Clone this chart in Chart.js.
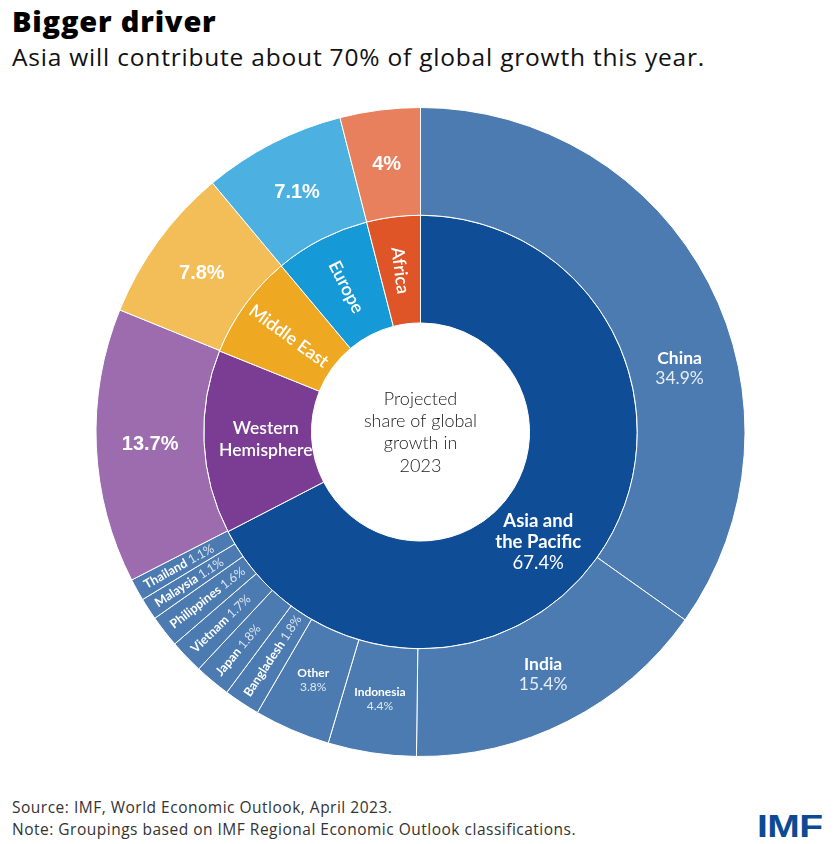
<!DOCTYPE html>
<html>
<head>
<meta charset="utf-8">
<script src="https://cdn.jsdelivr.net/npm/chart.js@4.4.0/dist/chart.umd.min.js"></script>
<style>
    body {
        margin: 0;
        background: #ffffff;
        font-family: "Open Sans", "Noto Sans", sans-serif;
        width: 837px;
        height: 844px;
        position: relative;
        overflow: hidden;
    }
    .title {
        position: absolute;
        left: 12px;
        top: 1px;
        font-size: 29px;
        font-weight: 800;
        letter-spacing: 0.8px;
        color: #000;
    }
    .subtitle {
        position: absolute;
        left: 12px;
        top: 40px;
        font-size: 24.5px;
        letter-spacing: 0.8px;
        color: #111;
    }
    .chart-box {
        position: absolute;
        left: 95px;
        top: 107px;
        width: 651px;
        height: 650px;
    }
    .note {
        position: absolute;
        left: 12px;
        top: 796px;
        font-size: 15.5px;
        letter-spacing: 0.5px;
        line-height: 22px;
        color: #333;
    }
    .logo {
        position: absolute;
        left: 757px;
        top: 808px;
        font-family: "Liberation Sans", Arial, sans-serif;
        font-weight: bold;
        font-size: 32px;
        color: #0d4a94;
        transform: scaleX(1.22);
        transform-origin: left top;
        letter-spacing: -0.5px;
    }
</style>
</head>
<body>
<div class="title">Bigger driver</div>
<div class="subtitle">Asia will contribute about 70% of global growth this year.</div>
<div class="chart-box"><canvas id="growthChart"></canvas></div>
<div class="note">Source: IMF, World Economic Outlook, April 2023.<br>Note: Groupings based on IMF Regional Economic Outlook classifications.</div>
<div class="logo">IMF</div>

<script>
// Regions (inner ring), clockwise from the top
const regions = ['Asia and the Pacific', 'Western Hemisphere', 'Middle East', 'Europe', 'Africa'];
const regionShares = [67.4, 13.7, 7.8, 7.1, 4];

// Asia and the Pacific split by economy (outer ring)
const countries = ['China', 'India', 'Indonesia', 'Other', 'Bangladesh', 'Japan', 'Vietnam', 'Philippines', 'Malaysia', 'Thailand'];
const countryShares = [34.9, 15.4, 4.4, 3.8, 1.8, 1.8, 1.7, 1.6, 1.1, 1.1];

const centerLines = ['Projected', 'share of global', 'growth in', '2023'];

const innerColors = ['#0f4e96', '#7b3d93', '#efa822', '#169ad7', '#e05527'];
const outerColors = ['#4b7bb1', '#9c6caf', '#f3bd58', '#4cb1e0', '#e8805d'];

// outer ring = the Asian economies, then the other regions again
const outerLabels = countries.concat(regions.slice(1));
const outerData = countryShares.concat(regionShares.slice(1));
const outerFill = countries.map(() => outerColors[0]).concat(outerColors.slice(1));

const pct = v => v + '%';

// how each label is drawn
const bigNames = ['China', 'India'];
const midNames = ['Indonesia', 'Other'];
const radialNames = ['Europe', 'Africa', 'Middle East'];
// a couple of labels are not sitting at the middle of their slice
const labelNudge = {
    'China': { deg: 76, r: 267 },
    'Asia and the Pacific': { deg: 133, r: 161 }
};

const labelPlugin = {
    id: 'ringLabels',
    afterDatasetsDraw(chart) {
        const ctx = chart.ctx;
        ctx.save();
        ctx.fillStyle = '#ffffff';
        ctx.textBaseline = 'middle';

        chart.data.datasets.forEach((ds, di) => {
            const meta = chart.getDatasetMeta(di);
            meta.data.forEach((arc, i) => {
                const p = arc.getProps(['x', 'y', 'startAngle', 'endAngle', 'innerRadius', 'outerRadius'], true);
                const name = ds.labels[i];
                const value = ds.data[i];
                let ang = (p.startAngle + p.endAngle) / 2;
                let r = (p.innerRadius + p.outerRadius) / 2;
                if (labelNudge[name] && !(di === 0 && regions.includes(name))) {
                    ang = (labelNudge[name].deg - 90) * Math.PI / 180;
                    r = labelNudge[name].r;
                }
                const cx = p.x + Math.cos(ang) * r;
                const cy = p.y + Math.sin(ang) * r;

                if (di === 0) {
                    // outer ring
                    if (regions.includes(name)) {
                        ctx.font = 'bold 20px "Liberation Sans", Arial, sans-serif';
                        ctx.textAlign = 'center';
                        ctx.fillText(pct(value), cx, cy + 1);
                    } else if (bigNames.includes(name)) {
                        ctx.textAlign = 'center';
                        ctx.font = 'bold 17.5px Lato, sans-serif';
                        ctx.fillText(name, cx, cy - 9);
                        ctx.font = '17.5px Lato, sans-serif';
                        ctx.fillStyle = '#e6edf6';
                        ctx.fillText(pct(value), cx, cy + 11);
                        ctx.fillStyle = '#ffffff';
                    } else if (midNames.includes(name)) {
                        ctx.textAlign = 'center';
                        ctx.font = 'bold 12px Lato, sans-serif';
                        ctx.fillText(name, cx, cy - 7);
                        ctx.font = '12px Lato, sans-serif';
                        ctx.fillStyle = '#e0e8f2';
                        ctx.fillText(pct(value), cx, cy + 7);
                        ctx.fillStyle = '#ffffff';
                    } else {
                        // thin slices: text runs along the radius, reading inwards
                        const start = p.outerRadius - 9;
                        ctx.save();
                        ctx.translate(p.x + Math.cos(ang) * start, p.y + Math.sin(ang) * start);
                        ctx.rotate(ang + Math.PI);
                        ctx.textAlign = 'left';
                        ctx.font = 'bold 12.5px Lato, sans-serif';
                        ctx.fillText(name, 0, 0);
                        const w = ctx.measureText(name + ' ').width;
                        ctx.font = '12.5px Lato, sans-serif';
                        ctx.fillStyle = '#dbe4f0';
                        ctx.fillText(pct(value), w, 0);
                        ctx.restore();
                    }
                } else {
                    // inner ring
                    if (name === 'Asia and the Pacific') {
                        ctx.textAlign = 'center';
                        ctx.font = 'bold 18.5px Lato, sans-serif';
                        ctx.fillText('Asia and', cx, cy - 21);
                        ctx.fillText('the Pacific', cx, cy);
                        ctx.font = '18.5px Lato, sans-serif';
                        ctx.fillText(pct(value), cx, cy + 21);
                    } else if (radialNames.includes(name)) {
                        ctx.save();
                        ctx.translate(cx, cy);
                        ctx.rotate(ang + Math.PI);
                        ctx.textAlign = 'center';
                        ctx.font = '600 18px Lato, sans-serif';
                        ctx.fillText(name, 0, 0);
                        ctx.restore();
                    } else {
                        ctx.textAlign = 'center';
                        ctx.font = '600 17.5px Lato, sans-serif';
                        const words = name.split(' ');
                        ctx.fillText(words[0], cx + 8, cy - 11);
                        ctx.fillText(words[1], cx + 8, cy + 11);
                    }
                }
            });
        });

        // text in the hole
        const c = chart.getDatasetMeta(0).data[0];
        ctx.fillStyle = '#1a1a1a';
        ctx.textAlign = 'center';
        ctx.font = '300 18px Lato, sans-serif';
        centerLines.forEach((line, k) => {
            ctx.fillText(line, c.x, c.y - 33 + k * 22.3);
        });
        ctx.restore();
    }
};

document.addEventListener('DOMContentLoaded', function() {
    const growthCtx = document.getElementById('growthChart').getContext('2d');
    const growthChart = new Chart(growthCtx, {
        type: 'doughnut',
        data: {
            labels: outerLabels,
            datasets: [{
                labels: outerLabels,
                data: outerData,
                backgroundColor: outerFill,
                borderColor: '#ffffff',
                borderWidth: 1
            }, {
                labels: regions,
                data: regionShares,
                backgroundColor: innerColors,
                borderColor: '#ffffff',
                borderWidth: 1
            }]
        },
        options: {
            responsive: true,
            maintainAspectRatio: false,
            animation: false,
            cutout: '33.6%',
            layout: {
                padding: 0
            },
            plugins: {
                legend: {
                    display: false
                },
                tooltip: {
                    enabled: false
                }
            }
        },
        plugins: [labelPlugin]
    });
});
</script>
</body>
</html>
